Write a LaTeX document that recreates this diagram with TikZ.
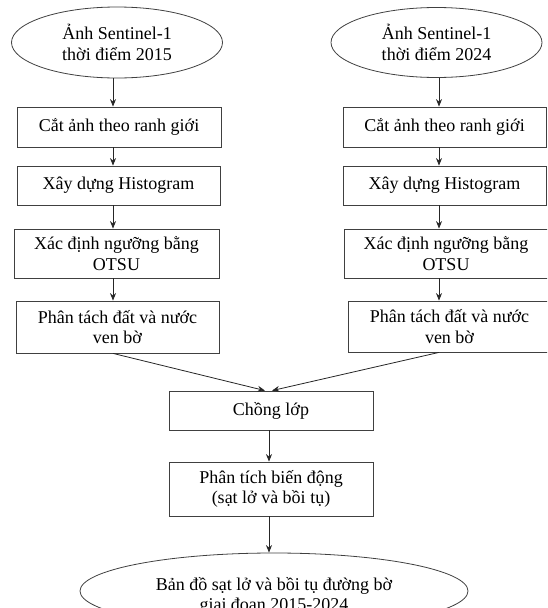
\documentclass[tikz,border=0pt]{standalone}
\usepackage{fontspec}
\setmainfont{Liberation Serif}
\usetikzlibrary{shapes.geometric,arrows.meta}
\begin{document}
\begin{tikzpicture}[x=1pt,y=-1pt,
  every node/.style={font=\fontsize{18}{20.5}\selectfont, text=black},
  boxnode/.style={draw=black!75, line width=0.8pt, rectangle, align=center, inner sep=0pt},
  ellnode/.style={draw=black!75, line width=0.8pt, ellipse, align=center, inner sep=0pt},
  arr/.style={draw=black!85, line width=0.8pt, -{Stealth[length=7.5pt,width=6pt]}}]
\useasboundingbox (0,0) rectangle (547,608);
\clip (0,0) rectangle (547,608);
% left column
\node[ellnode, minimum width=211pt, minimum height=71pt] (Le) at (117,42.5) {Ảnh Sentinel-1\\thời điểm 2015};
\node[boxnode, minimum width=204pt, minimum height=40pt] (L1) at (119,127) {Cắt ảnh theo ranh giới};
\node[boxnode, minimum width=203pt, minimum height=39pt] (L2) at (118.5,185.5) {Xây dựng Histogram};
\node[boxnode, minimum width=205pt, minimum height=49pt] (L3) at (116.5,253.5) {Xác định ngưỡng bằng\\OTSU};
\node[boxnode, minimum width=203pt, minimum height=52pt] (L4) at (117.5,327) {Phân tách đất và nước\\ven bờ};
% right column
\node[ellnode, minimum width=211pt, minimum height=70pt] (Re) at (436.5,42.5) {Ảnh Sentinel-1\\thời điểm 2024};
\node[boxnode, minimum width=203pt, minimum height=40pt] (R1) at (444.5,127) {Cắt ảnh theo ranh giới};
\node[boxnode, minimum width=203pt, minimum height=39pt] (R2) at (444.5,185.5) {Xây dựng Histogram};
\node[boxnode, minimum width=204pt, minimum height=49pt] (R3) at (446,253.5) {Xác định ngưỡng bằng\\OTSU};
\node[boxnode, minimum width=203pt, minimum height=51pt] (R4) at (449.5,326.5) {Phân tách đất và nước\\ven bờ};
% centre
\node[boxnode, minimum width=204pt, minimum height=39pt] (C1) at (271,410.5) {Chồng lớp};
\node[boxnode, minimum width=204pt, minimum height=54pt] (C2) at (271,489) {Phân tích biến động\\(sạt lở và bồi tụ)};
\node[ellnode, minimum width=388pt, minimum height=76pt] (C3) at (274,591) {};
\node[align=center, inner sep=0pt] (C3t) at ([yshift=-5pt]C3.center) {Bản đồ sạt lở và bồi tụ đường bờ\\giai đoạn 2015-2024};
% arrow axes
\coordinate (axL) at (113,0);
\coordinate (axR) at (439,0);
\coordinate (axC) at (269,0);
\draw[arr] (Le.south -| axL) -- (L1.north -| axL);
\draw[arr] (L1.south -| axL) -- (L2.north -| axL);
\draw[arr] (L2.south -| axL) -- (L3.north -| axL);
\draw[arr] (L3.south -| axL) -- (L4.north -| axL);
\draw[arr] (Re.south -| axR) -- (R1.north -| axR);
\draw[arr] (R1.south -| axR) -- (R2.north -| axR);
\draw[arr] (R2.south -| axR) -- (R3.north -| axR);
\draw[arr] (R3.south -| axR) -- (R4.north -| axR) ;
\draw[arr] (L4.south -| axL) -- ([xshift=-6pt]C1.north);
\draw[arr] (R4.south -| axR) -- ([xshift=1pt]C1.north);
\draw[arr] (C1.south -| axC) -- (C2.north -| axC);
\draw[arr] (C2.south -| axC) -- (C3.north -| axC);
\end{tikzpicture}
\end{document}
